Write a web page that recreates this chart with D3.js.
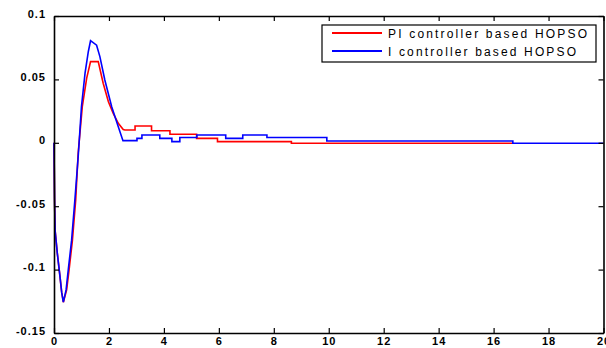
<!DOCTYPE html>
<html><head><meta charset="utf-8">
<script src="https://cdn.jsdelivr.net/npm/d3@7"></script>
<style>
html,body{margin:0;padding:0;background:#fff;}
svg{display:block;}
text{font-family:"Liberation Sans",Arial,sans-serif;}
</style></head>
<body>
<svg id="chart" width="606" height="348"></svg>
<script>
// ---- data ----
const seriesNames = ["PI controller based HOPSO", "I controller based HOPSO"];
const seriesColors = ["#ff0000", "#0000ff"];
const xTicks = [0, 2, 4, 6, 8, 10, 12, 14, 16, 18, 20];
const yTicks = [0.1, 0.05, 0, -0.05, -0.1, -0.15];
const yTickLabels = ["0.1", "0.05", "0", "-0.05", "-0.1", "-0.15"];

const timePI = [0, 0.02, 0.04, 0.12, 0.22, 0.28, 0.34, 0.46, 0.55, 0.67, 0.79, 0.88, 1.03, 1.19, 1.33, 1.61, 1.79, 1.98, 2.16, 2.34, 2.52,
  2.58, 2.95, 2.95, 3.55, 3.55, 4.22, 4.22, 5.19, 5.19, 5.95, 5.95, 8.64, 8.64, 16.7];
const valuesPI = [0, -0.044, -0.069, -0.087, -0.106, -0.118, -0.1257, -0.116, -0.100, -0.077, -0.045, -0.008, 0.0285, 0.051, 0.064, 0.064, 0.047, 0.0324, 0.023, 0.0154, 0.0105,
  0.0101, 0.0101, 0.0132, 0.0132, 0.0095, 0.0095, 0.0067, 0.0067, 0.0035, 0.0035, 0.0009, 0.0009, -0.0004, -0.0004];

const timeI = [0, 0.02, 0.04, 0.12, 0.22, 0.28, 0.34, 0.44, 0.52, 0.64, 0.76, 0.88, 1.0, 1.13, 1.25, 1.33, 1.55, 1.67, 1.85, 2.1, 2.34, 2.51,
  3.02, 3.02, 3.2, 3.2, 3.85, 3.85, 4.29, 4.29, 4.58, 4.58, 5.2, 5.2, 6.25, 6.25, 6.87, 6.87, 7.75, 7.75, 9.93, 9.93, 16.7, 16.7, 20];
const valuesI = [0, -0.044, -0.069, -0.087, -0.106, -0.118, -0.1257, -0.116, -0.100, -0.077, -0.045, -0.011, 0.0285, 0.055, 0.072, 0.0805, 0.077, 0.068, 0.0495, 0.0285, 0.0127, 0.0017,
  0.0017, 0.0035, 0.0035, 0.0062, 0.0062, 0.0035, 0.0035, 0.0009, 0.0009, 0.0042, 0.0042, 0.0062, 0.0062, 0.0035, 0.0035, 0.0062, 0.0062, 0.0042, 0.0042, 0.0014, 0.0014, -0.0004, -0.0004];

// ---- layout ----
const svg = d3.select("#chart");
const L = 54, R = 603.5, T = 16, B = 333;
const x = d3.scaleLinear().domain([0, 20]).range([L, R]);
const y = d3.scaleLinear().domain([-0.15, 0.1]).range([B, T]);

const line = d3.line().x(d => x(d[0])).y(d => y(d[1]));
const dataPI = timePI.map((t, i) => [t, valuesPI[i]]);
const dataI = timeI.map((t, i) => [t, valuesI[i]]);

svg.append("path").datum(dataPI).attr("d", line)
  .attr("fill", "none").attr("stroke", seriesColors[0]).attr("stroke-width", 1.6);
svg.append("path").datum(dataI).attr("d", line)
  .attr("fill", "none").attr("stroke", seriesColors[1]).attr("stroke-width", 1.6);

// axes (inward ticks, box)
const tickLen = 5;
const gB = svg.append("g").attr("transform", `translate(0,${B})`)
  .call(d3.axisBottom(x).tickValues(xTicks).tickSizeInner(-tickLen).tickSizeOuter(0).tickPadding(4).tickFormat(d3.format("d")));
const gT = svg.append("g").attr("transform", `translate(0,${T})`)
  .call(d3.axisTop(x).tickValues(xTicks).tickSizeInner(-tickLen).tickSizeOuter(0).tickFormat(""));
const gL = svg.append("g").attr("transform", `translate(${L},0)`)
  .call(d3.axisLeft(y).tickValues(yTicks).tickSizeInner(-tickLen).tickSizeOuter(0).tickPadding(8)
    .tickFormat((d, i) => yTickLabels[i]));
const gR = svg.append("g").attr("transform", `translate(${R},0)`)
  .call(d3.axisRight(y).tickValues(yTicks).tickSizeInner(-tickLen).tickSizeOuter(0).tickFormat(""));

[gB, gT, gL, gR].forEach(g => {
  g.select(".domain").attr("stroke", "#000").attr("stroke-width", 1.6);
  g.selectAll(".tick line").attr("stroke", "#000").attr("stroke-width", 1.2);
  g.selectAll("text").attr("fill", "#000").style("font-size", "11px").style("font-weight", "bold")
    .style("letter-spacing", "1px").style("font-family", "'Liberation Sans', Arial, sans-serif");
});
gL.selectAll("text").attr("dy", "0.1em");
gB.selectAll("text").attr("dy", "0.75em");

// legend
const lg = svg.append("g");
lg.append("rect").attr("x", 322).attr("y", 25).attr("width", 274).attr("height", 37)
  .attr("fill", "#fff").attr("stroke", "#000").attr("stroke-width", 1.2);
const legendY = [33, 51];
const legendLen = [199, 188];
seriesNames.forEach((name, i) => {
  lg.append("line").attr("x1", 332).attr("x2", 382).attr("y1", legendY[i]).attr("y2", legendY[i])
    .attr("stroke", seriesColors[i]).attr("stroke-width", 1.8);
  lg.append("text").attr("x", 388).attr("y", legendY[i] + 4.5)
    .attr("textLength", legendLen[i]).attr("lengthAdjust", "spacing")
    .style("font-size", "12px").attr("fill", "#000").text(name);
});
</script>
</body></html>
